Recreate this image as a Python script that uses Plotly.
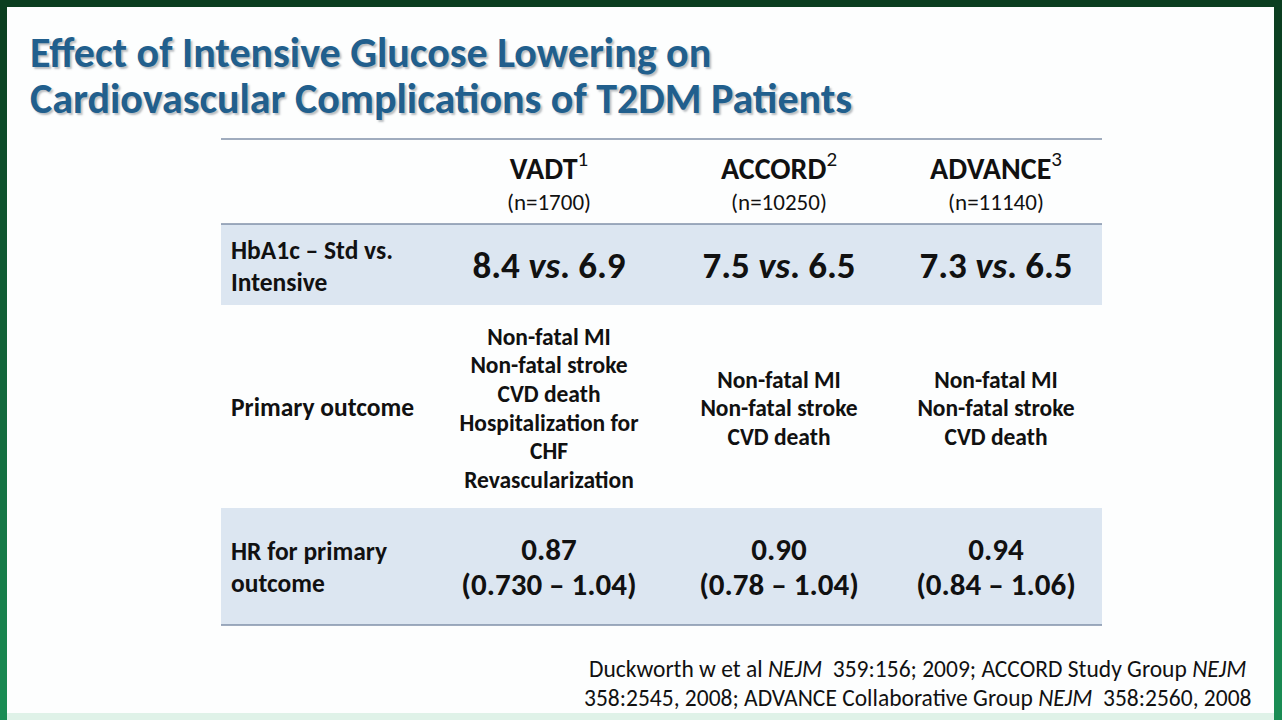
import plotly.graph_objects as go

# table content
studies = ["VADT", "ACCORD", "ADVANCE"]
study_refs = ["1", "2", "3"]
n_patients = [1700, 10250, 11140]
row_labels = [["HbA1c – Std vs.", "Intensive"], ["Primary outcome"], ["HR for primary", "outcome"]]
hba1c_std = [8.4, 7.5, 7.3]
hba1c_int = [6.9, 6.5, 6.5]
primary_outcomes = [
    ["Non-fatal MI", "Non-fatal stroke", "CVD death", "Hospitalization for", "CHF", "Revascularization"],
    ["Non-fatal MI", "Non-fatal stroke", "CVD death"],
    ["Non-fatal MI", "Non-fatal stroke", "CVD death"],
]
hr_values = ["0.87", "0.90", "0.94"]
hr_low = ["0.730", "0.78", "0.84"]
hr_high = ["1.04", "1.04", "1.06"]

title_lines = ["Effect of Intensive Glucose Lowering on", "Cardiovascular Complications of T2DM Patients"]
footnote_lines = [
    "Duckworth w et al <i>NEJM</i>  359:156; 2009; ACCORD Study Group <i>NEJM</i>",
    "358:2545, 2008; ADVANCE Collaborative Group <i>NEJM</i>  358:2560, 2008",
]

# geometry (pixel space of the slide)
W, H = 1282, 720
TABLE_X = (221, 1102)
ROW_Y = [139, 224, 305, 508, 625]
COL_X = [549, 779, 996]
LABEL_X = 231
DY = 3  # nudge text baselines to match the slide
FONT = "Carlito, Lato, Calibri, sans-serif"
INK = "#111111"
SHADE = "#dce6f1"
RULE = "#8090a8"

fig = go.Figure()


def add_lines(xs, ys, texts, size, bold=True, pos="middle center"):
    if bold:
        texts = [f"<b>{t}</b>" for t in texts]
    fig.add_trace(go.Scatter(
        x=xs, y=[y + DY for y in ys], text=texts, mode="text", textposition=pos,
        textfont=dict(family=FONT, size=size, color=INK),
        hoverinfo="skip", showlegend=False,
    ))


def stacked(center, n, step):
    return [center + (i - (n - 1) / 2) * step for i in range(n)]


# header row
add_lines(COL_X, [168] * 3, [f"<b>{s}</b><sup>{r}</sup>" for s, r in zip(studies, study_refs)], 30, bold=False)
add_lines(COL_X, [201] * 3, [f"(n={n})" for n in n_patients], 23, bold=False)

# row labels
label_centers = [(ROW_Y[1] + ROW_Y[2]) / 2 + 1, (ROW_Y[2] + ROW_Y[3]) / 2, (ROW_Y[3] + ROW_Y[4]) / 2]
for lab, c in zip(row_labels, label_centers):
    add_lines([LABEL_X] * len(lab), stacked(c, len(lab), 31.5), lab, 25.5, pos="middle right")

# HbA1c row
add_lines(COL_X, [266] * 3, [f"{a} <i>vs</i>. {b}" for a, b in zip(hba1c_std, hba1c_int)], 37)

# primary outcome row
for x, items in zip(COL_X, primary_outcomes):
    add_lines([x] * len(items), stacked(407.5, len(items), 28.6), items, 23.5)

# HR row
add_lines(COL_X, [549] * 3, hr_values, 31)
add_lines(COL_X, [584] * 3, [f"({lo} – {hi})" for lo, hi in zip(hr_low, hr_high)], 31)

shapes = []
# green frame with a vertical gradient
top_c, bot_c = (11, 62, 32), (26, 140, 84)
n_strips = 24
for i in range(n_strips):
    t = i / (n_strips - 1)
    c = tuple(int(a + (b - a) * t) for a, b in zip(top_c, bot_c))
    shapes.append(dict(type="rect", x0=0, x1=W, y0=H * i / n_strips, y1=H * (i + 1) / n_strips,
                       fillcolor=f"rgb{c}", line_width=0, layer="below"))
shapes.append(dict(type="rect", x0=7, x1=1274, y0=7, y1=713, fillcolor="#fdfefe", line_width=0, layer="below"))
shapes.append(dict(type="rect", x0=7, x1=1274, y0=713, y1=H, fillcolor="#dff2e8", line_width=0, layer="below"))

# shaded rows
for r in (1, 3):
    shapes.append(dict(type="rect", x0=TABLE_X[0], x1=TABLE_X[1], y0=ROW_Y[r], y1=ROW_Y[r + 1],
                       fillcolor=SHADE, line_width=0, layer="below"))
# rules
for y in (ROW_Y[0], ROW_Y[1], ROW_Y[4]):
    shapes.append(dict(type="line", x0=TABLE_X[0], x1=TABLE_X[1], y0=y, y1=y,
                       line=dict(color=RULE, width=1.5), layer="below"))

annotations = []
for i, line in enumerate(title_lines):
    annotations.append(dict(x=28, y=52 + i * 46, text=f"<b>{line}</b>", showarrow=False, xanchor="left",
                            font=dict(family=FONT, size=42, color="#215f8d",
                                      shadow="2px 2px 2px rgba(60,70,80,0.35)")))
for i, line in enumerate(footnote_lines):
    annotations.append(dict(x=917, y=669 + i * 29, text=line, showarrow=False, xanchor="center",
                            font=dict(family=FONT, size=23.5, color=INK)))

fig.update_layout(
    width=W, height=H,
    margin=dict(l=0, r=0, t=0, b=0),
    paper_bgcolor="white", plot_bgcolor="rgba(0,0,0,0)",
    xaxis=dict(range=[0, W], visible=False, fixedrange=True),
    yaxis=dict(range=[H, 0], visible=False, fixedrange=True),
    shapes=shapes, annotations=annotations,
)

fig.write_html(
    "out.html",
    config={"displayModeBar": False},
    post_script="document.body.style.margin='0';document.body.style.overflow='hidden';",
)
